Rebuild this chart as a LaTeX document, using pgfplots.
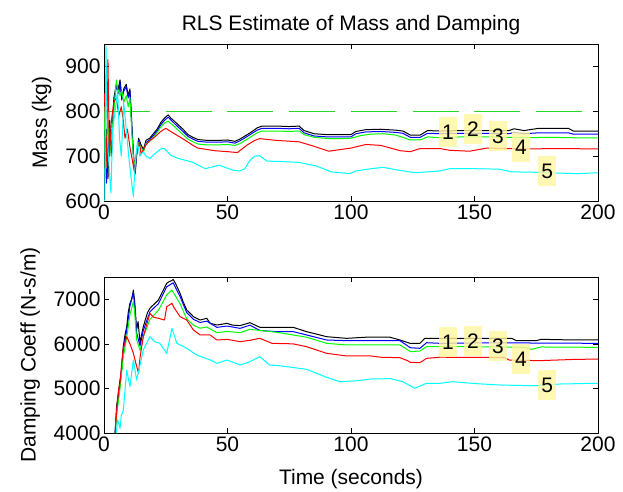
\documentclass[border=0pt]{standalone}
\usepackage{fontspec}
\setmainfont{Liberation Sans}
\usepackage{pgfplots}
\pgfplotsset{compat=1.18}
\definecolor{mgreen}{rgb}{0,1,0}
\definecolor{mcyan}{rgb}{0,1,1}
\definecolor{mblue}{rgb}{0,0,1}
\definecolor{mred}{rgb}{1,0,0}
\definecolor{lblfill}{RGB}{255,246,160}
\pgfplotsset{
  rls/.style={
    scale only axis, width=494pt,
    xmin=0, xmax=200, xtick={0,50,100,150,200},
    tick align=inside, xtick pos=both, ytick pos=both,
    major tick length=5pt,
    tick style={line width=0.6pt, black},
    tick label style={font=\fontsize{21}{24}\selectfont},
    label style={font=\fontsize{21}{24}\selectfont},
    title style={font=\fontsize{21}{24}\selectfont},
    ylabel style={yshift=7pt},
    xlabel style={yshift=-11pt},
    /pgf/number format/assume math mode=true,
    /pgf/number format/1000 sep={},
    axis line style={line width=0.8pt},
    every axis plot/.append style={line width=1pt, line join=round},
  },
}
\tikzset{
  lbl/.style={fill=lblfill, fill opacity=0.8, text opacity=1, font=\fontsize{21}{24}\selectfont, inner sep=0pt, minimum width=18pt, minimum height=30pt},
}
\begin{document}
\begin{tikzpicture}
\useasboundingbox (0,0) rectangle (623pt,491pt);
% ---------------- Mass ----------------
\begin{axis}[rls, at={(104pt,290pt)}, anchor=south west, height=157pt,
  ymin=600, ymax=950, ytick={600,700,800,900},
  ylabel={Mass (kg)}, title={RLS Estimate of Mass and Damping}]
\addplot[green!70!gray, line width=0.7pt, dash pattern=on 46pt off 15.7pt] coordinates {(0,800) (200,800)};
% 1 black
\addplot[black] coordinates {(0.2,800)(0.5,680)(1,760)(1.6,650)(2.3,780)(3,720)(4,830)(5,860)(5.6,845)(6.5,870)(7.2,830)(8,850)(9,860)(9.8,835)(10.5,850)(11.2,780)(12,700)(12.6,660)(13.2,700)(14,740)(15,725)(16,715)(17,735)(18.5,740)(20,750)(21.5,760)(23,775)(24.5,785)(26,792)(27,785)(28.5,778)(30,770)(32,760)(34,748)(36,742)(38,737)(42,735)(46,735)(50,736)(53,733)(55,738)(58,748)(60,755)(62,763)(64,767)(70,767)(75,766)(79,767)(81,757)(85,750)(90,748)(95,748)(100,748)(102,755)(106,759)(112,760)(118,758)(121,756)(124,747)(128,747)(131,757)(136,756)(145,757)(155,757)(164,757)(166,761)(170,757)(176,762)(188,762)(190,756)(200,756)};
% 2 blue
\addplot[mblue] coordinates {(0.2,790)(0.5,700)(1,640)(1.6,700)(2.3,760)(3,700)(4,820)(5,855)(6,840)(6.5,865)(7.2,825)(8,845)(9,855)(9.8,830)(10.5,845)(11.2,770)(12,690)(12.6,665)(13.2,705)(14,735)(15,720)(16,712)(17,730)(18.5,736)(20,746)(21.5,756)(23,770)(24.5,780)(26,787)(27,781)(28.5,773)(30,765)(32,755)(34,744)(36,738)(38,733)(42,731)(46,731)(50,732)(53,729)(55,734)(58,744)(60,751)(62,758)(64,762)(70,762)(75,761)(79,762)(81,752)(85,745)(90,743)(95,743)(100,743)(102,750)(106,754)(112,755)(118,753)(121,751)(124,742)(128,742)(131,751)(136,750)(145,751)(155,751)(164,750)(166,753)(170,750)(176,752)(188,752)(190,749)(200,749)};
% 3 green
\addplot[mgreen] coordinates {(0.2,810)(0.5,660)(1,720)(1.6,780)(2.3,700)(3,740)(4,800)(5,870)(5.6,850)(6.5,835)(7.2,845)(8,820)(9,835)(9.8,810)(10.5,830)(11.2,760)(12,690)(12.6,680)(13.2,710)(14,730)(15,720)(16,710)(17,728)(18.5,733)(20,742)(21.5,752)(23,765)(24.5,774)(26,778)(27,773)(28.5,766)(30,758)(32,748)(34,738)(36,732)(38,727)(42,725)(46,725)(50,726)(53,724)(55,728)(58,738)(60,745)(62,752)(64,756)(70,756)(75,755)(79,756)(81,748)(85,742)(91,739)(95,739)(100,740)(104,746)(108,749)(113,750)(118,747)(121,742)(124,736)(128,736)(131,743)(136,741)(145,743)(155,743)(164,742)(170,741)(180,742)(190,741)(200,741)};
% 4 red
\addplot[mred] coordinates {(0.2,840)(0.6,760)(1.2,676)(1.6,915)(2.2,700)(3,780)(4,820)(5,830)(6,790)(7,810)(7.8,780)(8.5,740)(9.5,760)(10.5,720)(11.5,690)(12.3,665)(13,700)(14.3,732)(15,705)(16,715)(17,725)(18.6,735)(20,740)(23,755)(25,762)(27,755)(30,745)(33,735)(36,724)(38,718)(45,712)(50,710)(54,708)(58,725)(61,735)(63,739)(70,735)(79,732)(85,722)(91,711)(100,718)(106,726)(112,724)(120,712)(124,710)(128,717)(136,717)(140,713)(148,711)(155,718)(170,716)(185,717)(200,716)};
% 5 cyan
\addplot[mcyan] coordinates {(0.3,600)(0.8,945)(1.3,750)(2,680)(2.8,618)(3.5,760)(4.5,800)(5.5,847)(6.3,740)(7,700)(8,818)(9,760)(10,700)(11,650)(11.9,610)(12.6,680)(13.5,732)(14.5,700)(15.9,710)(17,700)(18.6,695)(20.5,705)(23.2,717)(24.5,717)(27,702)(30,695)(35.6,687)(41,672)(46.6,680)(52,669)(55,667)(57,672)(59,690)(61,700)(63,701)(66,689)(72,688)(79,686)(86,678)(92,665)(99.5,661)(102,667)(108,672)(113,675)(120,668)(126,663)(136,667)(140,672)(150,672)(160,671)(165,665)(175,664)(185,662)(192,661)(200,663)};
\node[lbl] at (axis cs:139.3,754) {1};
\node[lbl] at (axis cs:149.4,760) {2};
\node[lbl] at (axis cs:159.5,745) {3};
\node[lbl] at (axis cs:168.8,720) {4};
\node[lbl] at (axis cs:179.4,667) {5};
\end{axis}
% ---------------- Damping ----------------
\begin{axis}[rls, at={(104pt,58pt)}, anchor=south west, height=156pt,
  ymin=4000, ymax=7500, ytick={4000,5000,6000,7000},
  xlabel={Time (seconds)}, ylabel={Damping Coeff (N-s/m)}]
% 1 black
\addplot[black] coordinates {(4.5,4000)(5.1,4590)(5.8,4900)(6.5,5189)(7.2,5450)(7.8,5936)(8.5,6200)(9.2,6385)(9.8,6700)(10.5,6910)(11.2,7000)(11.9,7208)(12.5,6900)(13.2,6311)(13.8,6500)(14.6,6012)(15.2,6200)(15.9,6385)(16.8,6550)(17.6,6700)(18.6,6798)(19.5,6850)(20.5,6900)(22,6984)(23.5,7150)(25.4,7358)(26.5,7400)(27.5,7420)(28,7448)(29,7350)(30.8,7134)(32,6950)(33.5,6760)(35,6680)(36.2,6610)(38.9,6535)(41.6,6573)(43,6460)(45.7,6423)(49.8,6460)(52,6420)(55.1,6410)(59.1,6475)(63.1,6371)(70,6371)(76.6,6371)(82,6274)(86,6220)(90.1,6161)(98.2,6124)(106.3,6150)(115.7,6150)(119.8,6087)(123.9,6012)(127.9,6012)(129.9,6124)(136,6124)(150,6125)(165,6125)(167,6071)(175,6071)(177,6102)(190,6087)(200,6087)};
% 2 blue
\addplot[mblue] coordinates {(4.5,4000)(5.1,4500)(6.5,5100)(7.8,5850)(9.2,6300)(10.5,6850)(11.9,7150)(12.5,6800)(13.2,6250)(14.6,5950)(15.9,6300)(18.6,6720)(22,6900)(25.4,7280)(28,7370)(30.8,7060)(33.5,6700)(36.2,6550)(38.9,6480)(41.6,6510)(45.7,6370)(49.8,6400)(55.1,6348)(59.1,6420)(63.1,6300)(70,6274)(76.6,6274)(82,6200)(90.1,6087)(98.2,6072)(115.7,6072)(119.8,6071)(122,5990)(124,5914)(127.9,5900)(130.6,6026)(136,6012)(150,6020)(170,6020)(200,6012)};
% 3 green
\addplot[mgreen] coordinates {(4.5,4000)(5.1,4400)(6.5,5000)(7.8,5700)(9.2,6150)(10.5,6650)(11.9,6950)(12.5,6650)(13.2,6100)(14.6,5850)(15.9,6150)(18.6,6550)(22,6750)(25.4,7100)(27.5,7208)(30.8,6900)(33.5,6560)(36.2,6420)(38.9,6350)(41.6,6380)(45.7,6250)(49.8,6280)(55.1,6251)(59.1,6326)(63.1,6300)(70,6260)(76.6,6199)(82,6150)(90.1,6012)(98.2,5975)(115.7,5975)(119.8,5975)(122,5900)(124,5825)(127.9,5840)(130.6,5937)(136,5937)(150,5937)(170,5922)(173,5877)(177,5930)(200,5922)};
% 4 red
\addplot[mred] coordinates {(4.5,4000)(5.3,4600)(6,5000)(6.5,5120)(7.2,5600)(7.8,5900)(9.2,6161)(10.5,6000)(11.9,5788)(13.2,5500)(14,5340)(14.6,5700)(15.9,6161)(18.6,6685)(20,6600)(22,6573)(24.5,6535)(25.4,6834)(27.5,6910)(28.5,6800)(30.8,6610)(33.5,6535)(36.2,6311)(38.9,6199)(43,6199)(45.7,6087)(50,6100)(55.1,6049)(59.1,6080)(63.1,6124)(68,6012)(76.6,6000)(82,5937)(90.1,5788)(98.2,5728)(108,5728)(112,5700)(119.8,5690)(123,5620)(124,5586)(127.9,5578)(130.6,5675)(136,5700)(150,5698)(162,5698)(164,5638)(176,5623)(190,5650)(200,5660)};
% 5 cyan
\addplot[mcyan] coordinates {(5,4000)(5.5,4300)(6.5,4100)(7,4400)(7.8,4500)(9.2,5413)(10.5,5040)(11.9,5638)(13.2,5189)(14.5,5500)(15.9,5862)(18.6,6161)(20.5,6050)(22.6,6012)(25.4,5788)(27.5,6348)(29.5,6012)(33.5,5900)(37.5,5750)(43,5638)(45.7,5563)(49.8,5638)(55.1,5526)(59.1,5600)(63.1,5713)(67,5526)(71,5510)(82,5429)(90.1,5250)(95.5,5151)(102,5170)(108,5212)(116,5220)(121,5151)(125.8,5003)(130.6,5115)(136,5115)(141,5151)(150,5110)(160,5077)(174,5060)(185,5100)(198,5114)(200,5114)};
\node[lbl] at (axis cs:139.3,6042) {1};
\node[lbl] at (axis cs:149.4,6064) {2};
\node[lbl] at (axis cs:159.5,5952) {3};
\node[lbl] at (axis cs:168.8,5660) {4};
\node[lbl] at (axis cs:179.4,5077) {5};
\end{axis}
\end{tikzpicture}
\end{document}
